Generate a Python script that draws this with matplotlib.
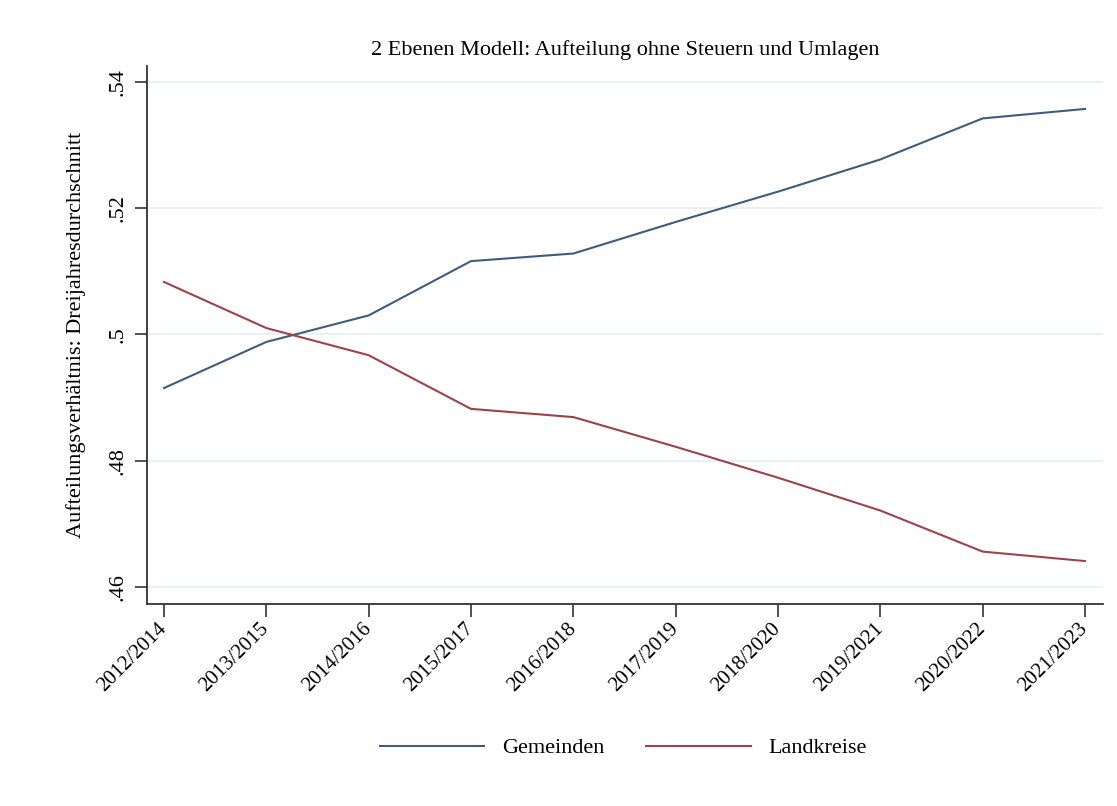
import numpy as np
import matplotlib
matplotlib.use("Agg")
import matplotlib.pyplot as plt

plt.rcParams['font.family'] = ['Liberation Serif', 'DejaVu Serif']

# Daten
perioden = ["2012/2014", "2013/2015", "2014/2016", "2015/2017", "2016/2018",
            "2017/2019", "2018/2020", "2019/2021", "2020/2022", "2021/2023"]
gemeinden = [0.4915, 0.4988, 0.5030, 0.5116, 0.5128, 0.5178, 0.5226, 0.5277, 0.5342, 0.5357]
landkreise = [0.5083, 0.5010, 0.4967, 0.4882, 0.4869, 0.4822, 0.4773, 0.4721, 0.4656, 0.4641]
y_ticks = [0.46, 0.48, 0.50, 0.52, 0.54]
y_labels = [".46", ".48", ".5", ".52", ".54"]

fs = 16

fig = plt.figure(figsize=(11.17, 8.06), dpi=100)
ax = fig.add_axes([147/1117, 1 - 604/806, (1103-147)/1117, (604-66)/806])

x = np.arange(len(perioden))
ax.plot(x, gemeinden, color='#3d5d7f', linewidth=1.5, label='Gemeinden')
ax.plot(x, landkreise, color='#9c434a', linewidth=1.5, label='Landkreise')

ax.set_xlim(-0.166, len(perioden) - 1 + 0.176)
ax.set_ylim(0.4573, 0.5425)
ax.set_yticks(y_ticks)
ax.set_yticklabels(y_labels, rotation=90, va='center', fontsize=fs)
ax.set_xticks(x)
ax.set_xticklabels(perioden, rotation=45, ha='right', va='center',
                   rotation_mode='anchor', fontsize=15)
ax.tick_params(axis='both', direction='out', length=9, width=1.2, color='#333333')
ax.tick_params(axis='x', pad=7)
ax.tick_params(axis='y', pad=5)

ax.grid(axis='y', color='#e6eff2', linewidth=1.2)
ax.set_axisbelow(True)
for side in ['top', 'right']:
    ax.spines[side].set_visible(False)
for side in ['left', 'bottom']:
    ax.spines[side].set_color('#333333')
    ax.spines[side].set_linewidth(1.3)

ax.set_ylabel("Aufteilungsverhältnis: Dreijahresdurchschnitt", fontsize=fs, labelpad=16)
ax.set_title("2 Ebenen Modell: Aufteilung ohne Steuern und Umlagen", fontsize=fs, pad=8)

fig.legend(loc='center', bbox_to_anchor=(0.558, 1 - 748/806), ncol=2, frameon=False,
           fontsize=fs, handlelength=4.7, columnspacing=1.9, handletextpad=0.8)

plt.savefig('out.png', dpi=100)
plt.close()
